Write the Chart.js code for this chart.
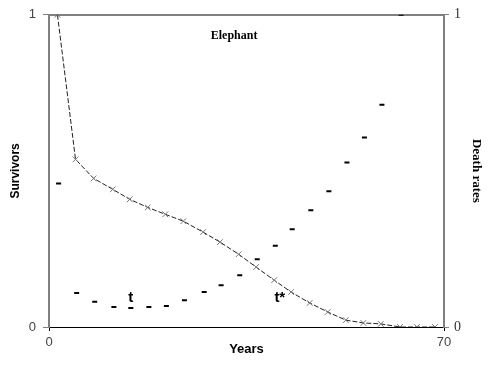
<!DOCTYPE html>
<html>
<head>
<meta charset="utf-8">
<script src="https://cdn.jsdelivr.net/npm/chart.js@4/dist/chart.umd.min.js"></script>
<style>
  html, body { margin: 0; padding: 0; background: #fff; }
  canvas { display: block; }
</style>
</head>
<body>
<canvas id="elephantChart" width="492" height="369"></canvas>
<script>
// ages (years) at which survivors / death rates were read
const ages = [1.5, 4.7, 7.9, 11.3, 14.3, 17.5, 20.6, 23.8, 27.3, 30.3, 33.6,
              36.7, 39.9, 42.9, 46.2, 49.4, 52.6, 55.7, 58.8, 62.2, 65.2, 68.4];
const survivors = [1.0, 0.537, 0.476, 0.441, 0.409, 0.383, 0.361, 0.339, 0.304, 0.272, 0.233,
                   0.192, 0.150, 0.112, 0.077, 0.048, 0.022, 0.013, 0.010, 0.0, 0.0, 0.0];
const deathRates = [0.46, 0.109, 0.081, 0.064, 0.061, 0.064, 0.067, 0.086, 0.112, 0.134, 0.166,
                    0.217, 0.260, 0.313, 0.374, 0.435, 0.527, 0.607, 0.712, 1.0];
const xTicks = [0, 70];
const yTicks = [0, 1];

// text notes inside the plot
const noteText = ['Elephant', 't', 't*'];
const noteAges = [32.8, 14.5, 40.9];
const noteValues = [0.933, 0.093, 0.093];
const noteFonts = ['bold 12px "Liberation Serif"', 'bold 15px "Liberation Sans"', 'bold 15px "Liberation Sans"'];

const notesPlugin = {
    id: 'notes',
    afterDatasetsDraw(chart) {
        const ctx = chart.ctx;
        const xs = chart.scales.x;
        const ys = chart.scales.y;
        ctx.save();
        ctx.fillStyle = '#000';
        ctx.textAlign = 'center';
        ctx.textBaseline = 'middle';
        noteText.forEach((txt, i) => {
            ctx.font = noteFonts[i];
            ctx.fillText(txt, xs.getPixelForValue(noteAges[i]), ys.getPixelForValue(noteValues[i]));
        });
        ctx.restore();
    }
};

function fixedTicks(values) {
    return function (scale) {
        scale.ticks = values.map(v => ({ value: v }));
    };
}

const ctx = document.getElementById('elephantChart').getContext('2d');
new Chart(ctx, {
    type: 'line',
    data: {
        datasets: [{
            label: 'Survivors',
            data: ages.map((a, i) => ({ x: a, y: survivors[i] })),
            yAxisID: 'y',
            borderColor: '#222',
            borderWidth: 1,
            borderDash: [5, 2],
            pointStyle: 'crossRot',
            pointRadius: 4,
            pointBorderColor: '#777',
            pointBorderWidth: 1,
            tension: 0
        }, {
            label: 'Death rates',
            data: deathRates.map((d, i) => ({ x: ages[i] + 0.2, y: d })),
            yAxisID: 'y2',
            showLine: false,
            pointStyle: 'line',
            pointRadius: 2.5,
            pointBorderColor: '#000',
            pointBorderWidth: 2
        }]
    },
    options: {
        responsive: false,
        animation: false,
        layout: { padding: 0 },
        plugins: {
            legend: { display: false },
            tooltip: { enabled: false }
        },
        scales: {
            x: {
                type: 'linear',
                position: 'bottom',
                min: 0,
                max: 70,
                afterBuildTicks: fixedTicks(xTicks),
                afterFit: function (scale) { scale.height = 42; },
                grid: { display: true, drawOnChartArea: false, drawTicks: true, tickLength: 4, color: '#000' },
                border: { display: true, color: '#000', width: 1 },
                ticks: {
                    padding: 4,
                    maxRotation: 0,
                    color: '#444',
                    font: { family: 'Liberation Sans', size: 13 }
                },
                title: {
                    display: true,
                    text: 'Years',
                    color: '#000',
                    padding: { top: 0, bottom: 12 },
                    font: { family: 'Liberation Sans', size: 13, weight: 'bold' }
                }
            },
            xTop: {
                type: 'linear',
                position: 'top',
                min: 0,
                max: 70,
                afterFit: function (scale) { scale.height = 14; },
                grid: { display: false },
                border: { display: true, color: '#808080', width: 2 },
                ticks: { display: false }
            },
            y: {
                position: 'left',
                min: 0,
                max: 1,
                afterBuildTicks: fixedTicks(yTicks),
                afterFit: function (scale) { scale.width = 49; },
                grid: { display: true, drawOnChartArea: false, drawTicks: true, tickLength: 6, color: '#808080' },
                border: { display: true, color: '#808080', width: 2 },
                ticks: {
                    padding: 7,
                    color: '#444',
                    font: { family: 'Liberation Sans', size: 13 }
                },
                title: {
                    display: true,
                    text: 'Survivors',
                    color: '#000',
                    padding: { top: 8, bottom: 0 },
                    font: { family: 'Liberation Sans', size: 12, weight: 'bold' }
                }
            },
            y2: {
                position: 'right',
                min: 0,
                max: 1,
                afterBuildTicks: fixedTicks(yTicks),
                afterFit: function (scale) { scale.width = 48; },
                grid: { display: true, drawOnChartArea: false, drawTicks: true, tickLength: 5, color: '#808080' },
                border: { display: true, color: '#808080', width: 2 },
                ticks: {
                    padding: 5,
                    color: '#333',
                    font: { family: 'Liberation Serif', size: 14 }
                },
                title: {
                    display: true,
                    text: 'Death rates',
                    color: '#000',
                    padding: { top: 8, bottom: 8 },
                    font: { family: 'Liberation Serif', size: 13, weight: 'bold' }
                }
            }
        }
    },
    plugins: [notesPlugin]
});
</script>
</body>
</html>
